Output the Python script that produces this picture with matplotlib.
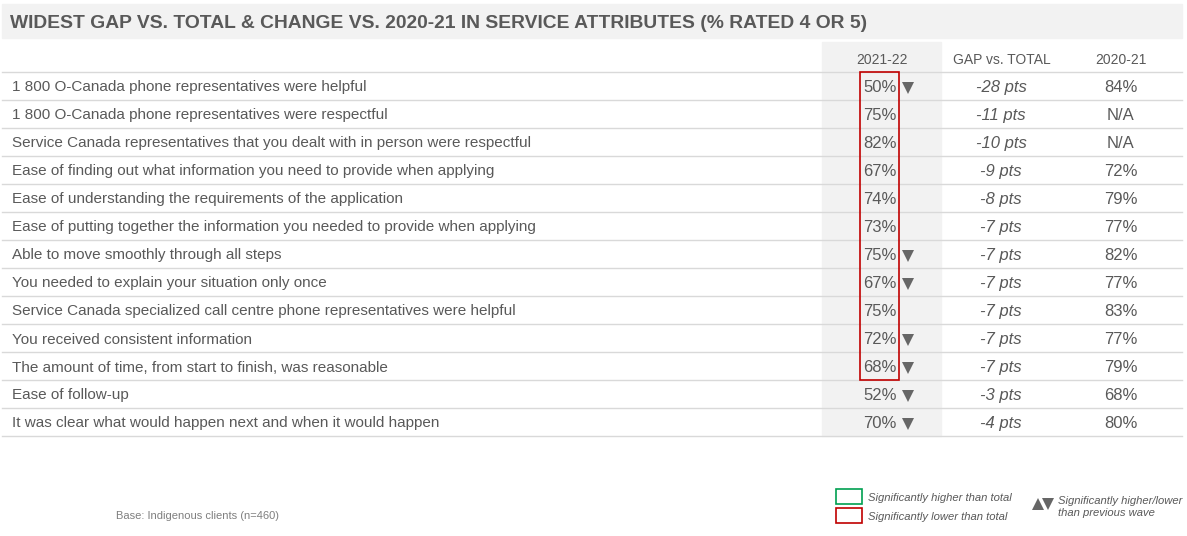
import matplotlib.pyplot as plt
from matplotlib.patches import Rectangle

plt.rcParams["font.family"] = ["Liberation Sans", "DejaVu Sans"]

# ==================================
# DATA
# ==================================

title = "WIDEST GAP VS. TOTAL & CHANGE VS. 2020-21 IN SERVICE ATTRIBUTES (% RATED 4 OR 5)"

attributes = [
    "1 800 O-Canada phone representatives were helpful",
    "1 800 O-Canada phone representatives were respectful",
    "Service Canada representatives that you dealt with in person were respectful",
    "Ease of finding out what information you need to provide when applying",
    "Ease of understanding the requirements of the application",
    "Ease of putting together the information you needed to provide when applying",
    "Able to move smoothly through all steps",
    "You needed to explain your situation only once",
    "Service Canada specialized call centre phone representatives were helpful",
    "You received consistent information",
    "The amount of time, from start to finish, was reasonable",
    "Ease of follow-up",
    "It was clear what would happen next and when it would happen",
]
current = [50, 75, 82, 67, 74, 73, 75, 67, 75, 72, 68, 52, 70]
gap = [-28, -11, -10, -9, -8, -7, -7, -7, -7, -7, -7, -3, -4]
previous = [84, None, None, 72, 79, 77, 82, 77, 83, 77, 79, 68, 80]
# -1 = significantly lower than previous wave, 0 = no change
wave_change = [-1, 0, 0, 0, 0, 0, -1, -1, 0, -1, -1, -1, -1]
# -1 = significantly lower than total
vs_total = [-1, -1, -1, -1, -1, -1, -1, -1, -1, -1, -1, 0, 0]

headers = ["2021-22", "GAP vs. TOTAL", "2020-21"]

# ==================================
# LAYOUT
# ==================================

W, H = 1187, 536
fig = plt.figure(figsize=(W / 100, H / 100), dpi=100)
ax = fig.add_axes([0, 0, 1, 1])
ax.set_xlim(0, W)
ax.set_ylim(H, 0)
ax.axis("off")

text_col = "#595959"
line_col = "#d9d9d9"
tri_col = "#666666"
row_h = 28
top = 72
n = len(attributes)

# title bar
ax.add_patch(Rectangle((2, 4), 1180, 34, color="#f2f2f2", zorder=0))
ax.text(10, 22, title, fontsize=13.9, fontweight="bold", color=text_col,
        va="center_baseline", ha="left")

# shaded column for current wave
ax.add_patch(Rectangle((822, 42), 119, top + n * row_h - 42,
                       color="#f2f2f2", zorder=0))

# headers
for x, h in zip([882, 1002, 1121], headers):
    ax.text(x, 58, h, fontsize=10, color=text_col, ha="center",
            va="center_baseline")

# rows
for i in range(n + 1):
    y = top + i * row_h
    ax.plot([2, 1182], [y, y], color=line_col, lw=1, zorder=1)

for i, label in enumerate(attributes):
    yc = top + i * row_h + row_h / 2
    ax.text(12, yc, label, fontsize=11, color=text_col,
            va="center_baseline", ha="left")
    ax.text(897, yc, f"{current[i]}%", fontsize=12, color=text_col,
            va="center_baseline", ha="right")
    if wave_change[i] != 0:
        marker = "v" if wave_change[i] < 0 else "^"
        ax.plot(908, yc + 1.5, marker=marker, color=tri_col, markersize=8,
                markeredgewidth=0)
    ax.text(1001, yc, f"{gap[i]} pts", fontsize=12, color=text_col,
            style="italic", va="center_baseline", ha="center")
    prev = "N/A" if previous[i] is None else f"{previous[i]}%"
    ax.text(1121, yc, prev, fontsize=12, color=text_col,
            va="center_baseline", ha="center")

# red box around rows significantly lower than total
low_rows = [i for i, v in enumerate(vs_total) if v < 0]
y0 = top + min(low_rows) * row_h
y1 = top + (max(low_rows) + 1) * row_h
ax.add_patch(Rectangle((860, y0), 38.5, y1 - y0, fill=False,
                       edgecolor="#c00000", lw=1.2, zorder=3))

# ==================================
# LEGEND & FOOTNOTE
# ==================================

ax.add_patch(Rectangle((836, 489), 26, 15, fill=False,
                       edgecolor="#00a050", lw=1.2))
ax.add_patch(Rectangle((836, 508), 26, 15, fill=False,
                       edgecolor="#c00000", lw=1.2))
ax.text(868, 497, "Significantly higher than total", fontsize=8.1,
        style="italic", color=text_col, va="center_baseline")
ax.text(868, 516, "Significantly lower than total", fontsize=8.1,
        style="italic", color=text_col, va="center_baseline")
ax.plot(1038, 503.5, marker="^", color=tri_col, markersize=8, markeredgewidth=0)
ax.plot(1048, 503.5, marker="v", color=tri_col, markersize=8, markeredgewidth=0)
ax.text(1058, 500, "Significantly higher/lower", fontsize=8.1,
        style="italic", color=text_col, va="center_baseline")
ax.text(1058, 512, "than previous wave", fontsize=8.1,
        style="italic", color=text_col, va="center_baseline")

ax.text(116, 515, "Base: Indigenous clients (n=460)", fontsize=8,
        color="#7f7f7f", va="center_baseline")

fig.savefig("out.png", dpi=100)
